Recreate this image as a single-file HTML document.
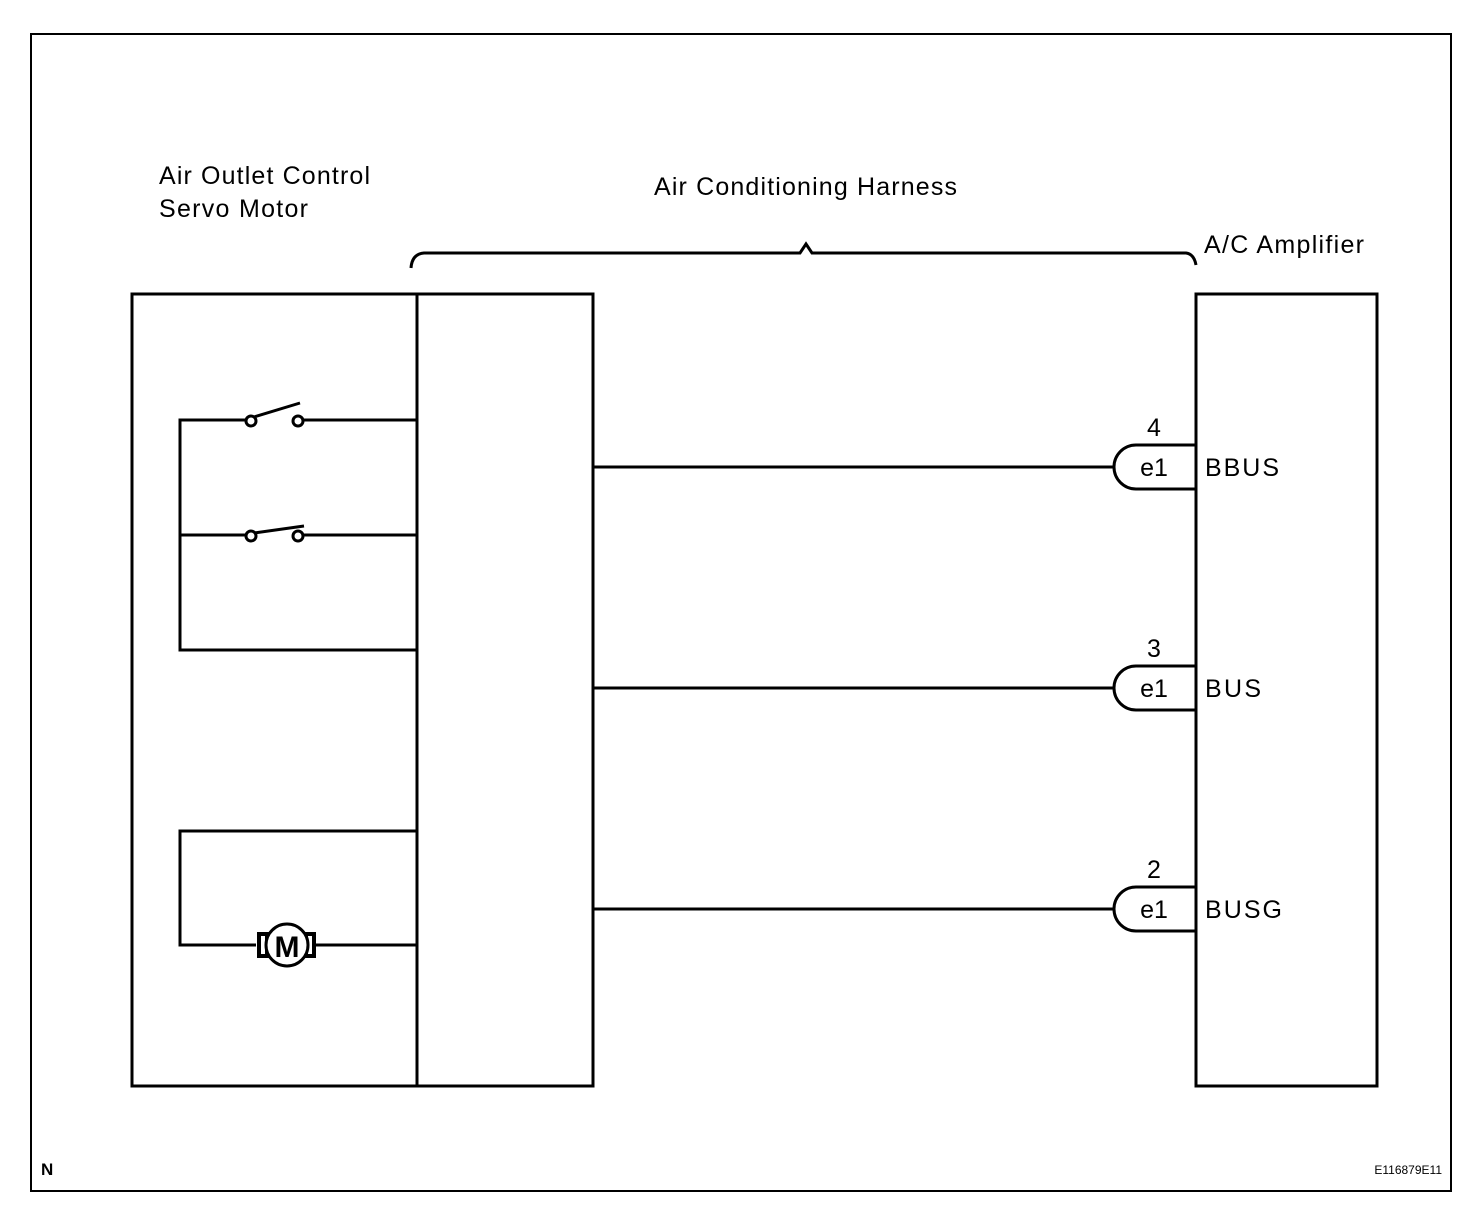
<!DOCTYPE html>
<html><head><meta charset="utf-8"><style>
html,body{margin:0;padding:0;background:#fff}
svg{display:block}
text{font-family:"Liberation Sans",Arial,sans-serif;fill:#000}
</style></head><body>
<svg width="1472" height="1216" viewBox="0 0 1472 1216" xmlns="http://www.w3.org/2000/svg">
<rect x="31" y="34" width="1420" height="1157" fill="none" stroke="#000" stroke-width="2"/>
<g font-size="25">
<text x="159" y="184" textLength="211" lengthAdjust="spacing">Air Outlet Control</text>
<text x="159" y="217" textLength="149" lengthAdjust="spacing">Servo Motor</text>
<text x="654" y="195" textLength="303" lengthAdjust="spacing">Air Conditioning Harness</text>
<text x="1204" y="253" textLength="160" lengthAdjust="spacing">A/C Amplifier</text>
</g>
<path d="M411 268 Q412 254 424 253 L800 253 L806 244 L812 253 L1186 253 Q1194 254 1196 265" fill="none" stroke="#000" stroke-width="3"/>
<g fill="none" stroke="#000" stroke-width="3">
<rect x="132" y="294" width="461" height="792"/>
<line x1="417" y1="294" x2="417" y2="1086"/>
<rect x="1196" y="294" width="181" height="792"/>
<polyline points="246,420 180,420 180,650 417,650"/>
<line x1="303" y1="420" x2="417" y2="420"/>
<line x1="180" y1="535" x2="246" y2="535"/>
<line x1="303" y1="535" x2="417" y2="535"/>
<line x1="254" y1="417" x2="300" y2="403"/>
<line x1="254" y1="533" x2="304" y2="526"/>
<polyline points="256,945 180,945 180,831 417,831"/>
<line x1="316" y1="945" x2="417" y2="945"/>
<line x1="593" y1="467" x2="1113" y2="467"/>
<line x1="593" y1="688" x2="1113" y2="688"/>
<line x1="593" y1="909" x2="1113" y2="909"/>
<path d="M1196 445 L1136 445 A22 22 0 0 0 1136 489 L1196 489"/>
<path d="M1196 666 L1136 666 A22 22 0 0 0 1136 710 L1196 710"/>
<path d="M1196 887 L1136 887 A22 22 0 0 0 1136 931 L1196 931"/>
</g>
<g fill="#fff" stroke="#000" stroke-width="3">
<circle cx="251" cy="421" r="5"/><circle cx="298" cy="421" r="5"/>
<circle cx="251" cy="536" r="5"/><circle cx="298" cy="536" r="5"/>
</g>
<rect x="259" y="934" width="8" height="22" fill="none" stroke="#000" stroke-width="4"/>
<rect x="306" y="934" width="8" height="22" fill="none" stroke="#000" stroke-width="4"/>
<circle cx="287" cy="945" r="21" fill="#fff" stroke="#000" stroke-width="3"/>
<text x="287" y="957" font-size="30" font-weight="bold" text-anchor="middle">M</text>
<g font-size="25">
<text x="1154" y="436" text-anchor="middle">4</text>
<text x="1154" y="476" text-anchor="middle">e1</text>
<text x="1205" y="476" textLength="74" lengthAdjust="spacing">BBUS</text>
<text x="1154" y="657" text-anchor="middle">3</text>
<text x="1154" y="697" text-anchor="middle">e1</text>
<text x="1205" y="697" textLength="56" lengthAdjust="spacing">BUS</text>
<text x="1154" y="878" text-anchor="middle">2</text>
<text x="1154" y="918" text-anchor="middle">e1</text>
<text x="1205" y="918" textLength="77" lengthAdjust="spacing">BUSG</text>
</g>
<text x="41" y="1175" font-size="17" font-weight="bold">N</text>
<text x="1442" y="1174" font-size="12" text-anchor="end">E116879E11</text>
</svg>
</body></html>
